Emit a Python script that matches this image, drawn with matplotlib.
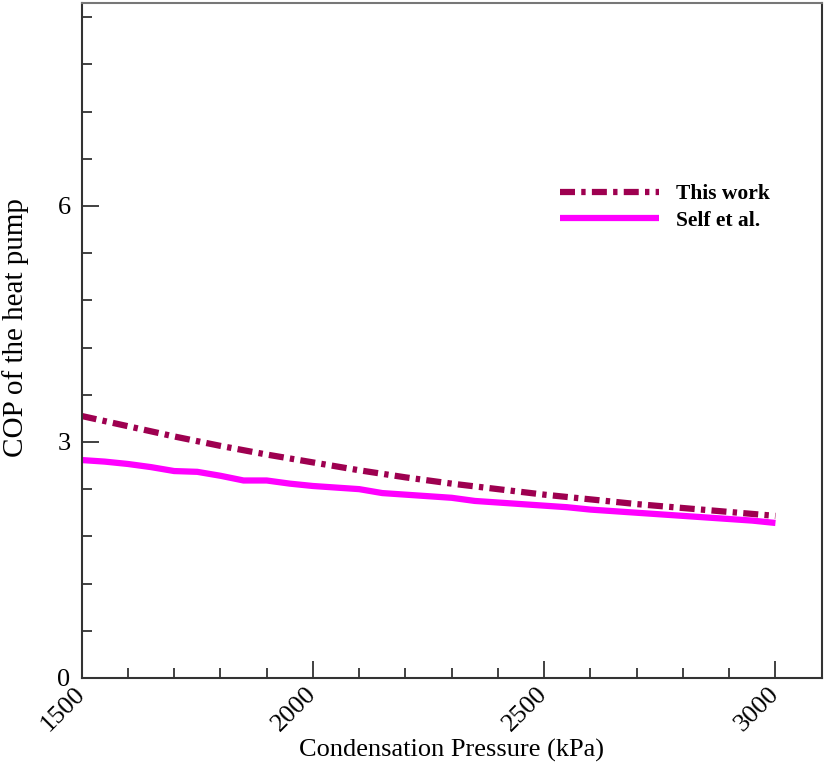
import matplotlib
matplotlib.use('Agg')
from matplotlib import pyplot as plt
from matplotlib.ticker import MultipleLocator

# condensation pressure (kPa) and COP values
pressureThisWork = [1500, 1600, 1700, 1800, 1900, 2000, 2100, 2200,
                    2300, 2400, 2500, 2600, 2700, 2800, 2900, 3000]
copThisWork = [3.33, 3.20, 3.07, 2.95, 2.84, 2.74, 2.64, 2.55,
               2.47, 2.40, 2.33, 2.27, 2.21, 2.16, 2.11, 2.06]

pressureSelf = [1500, 1550, 1600, 1650, 1700, 1750, 1800, 1850, 1900, 1950,
                2000, 2050, 2100, 2150, 2200, 2250, 2300, 2350, 2400, 2450,
                2500, 2550, 2600, 2650, 2700, 2750, 2800, 2850, 2900, 2950, 3000]
copSelf = [2.77, 2.75, 2.72, 2.68, 2.63, 2.62, 2.57, 2.51, 2.51, 2.47,
           2.44, 2.42, 2.40, 2.35, 2.33, 2.31, 2.29, 2.25, 2.23, 2.21,
           2.19, 2.17, 2.14, 2.12, 2.10, 2.08, 2.06, 2.04, 2.02, 2.00, 1.97]

labels = ['This work', 'Self et al.']


class ObjectColor(object):
    ThisWork = '#9e0050'
    Self = '#ff00ff'
    Spine = '#333333'


plt.rcParams['font.family'] = ['Liberation Serif', 'DejaVu Serif']

figure = plt.figure(figsize=(8.25, 7.66), dpi=100)
axis = figure.add_axes([0.099, 0.115, 0.897, 0.881])

axis.plot(pressureThisWork, copThisWork, color=ObjectColor.ThisWork, linewidth=4.5,
          linestyle=(0, (2.4, 1.0, 0.7, 1.0)), label=labels[0])
axis.plot(pressureSelf, copSelf, color=ObjectColor.Self, linewidth=4.5,
          solid_capstyle='butt', label=labels[1])

axis.set_xlim(1500, 3100)
axis.set_ylim(0, 8.58)

axis.xaxis.set_major_locator(MultipleLocator(500))
axis.xaxis.set_minor_locator(MultipleLocator(100))
axis.yaxis.set_major_locator(MultipleLocator(3))
axis.yaxis.set_minor_locator(MultipleLocator(0.6))

axis.tick_params(which='both', direction='in', top=False, right=False,
                 color=ObjectColor.Spine, width=1.3, labelsize=19)
axis.tick_params(which='major', length=12)
axis.tick_params(which='minor', length=7)
axis.tick_params(axis='x', pad=9)
axis.tick_params(axis='y', pad=8)
for label in axis.get_xticklabels():
    label.set_rotation(45)
    label.set_ha('right')
    label.set_va('center')
    label.set_rotation_mode('anchor')

for name, spine in axis.spines.items():
    spine.set_color(ObjectColor.Spine)
    spine.set_linewidth(1.5)
axis.spines['top'].set_color('#777777')

axis.set_xlabel('Condensation Pressure (kPa)', fontsize=19)
axis.xaxis.set_label_coords(0.5, -0.091)
axis.set_ylabel('COP of the heat pump', fontsize=21, va='center')
axis.yaxis.set_label_coords(-0.089, 0.519)

legend = axis.legend(loc='center left', bbox_to_anchor=(0.62, 0.697), frameon=False,
                     handlelength=4.6, handletextpad=0.8, labelspacing=0.3,
                     prop={'weight': 'bold', 'size': 15.5})

plt.savefig('out.png', dpi=100)
